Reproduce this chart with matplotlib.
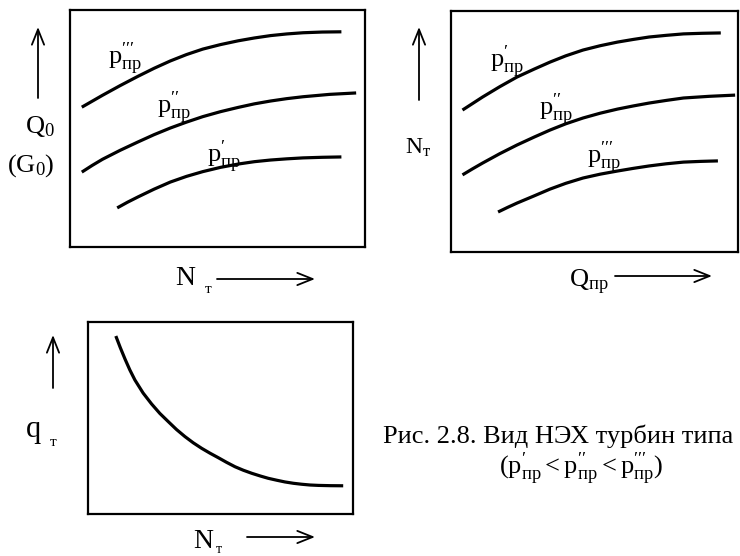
import matplotlib
matplotlib.use("Agg")
import matplotlib.pyplot as plt
from matplotlib.patches import FancyArrowPatch

plt.rcParams["font.family"] = ["Liberation Serif", "DejaVu Serif"]
plt.rcParams["mathtext.fontset"] = "custom"
plt.rcParams["mathtext.rm"] = "Liberation Serif"
plt.rcParams["mathtext.it"] = "Liberation Serif"
plt.rcParams["mathtext.bf"] = "Liberation Serif:bold"

W, H = 740, 556

# --- Q0 (G0) vs N_т, three inlet pressures ---
q0_p3_x = [4, 7.5, 11, 17, 23, 28.5, 34, 39.5, 45, 51, 57, 62.5, 68, 73.5, 79, 85.5, 92]
q0_p3_y = [59, 61.5, 64, 68.1, 72, 75.4, 78.5, 81.2, 83.5, 85.4, 87, 88.2, 89.2, 89.9, 90.4, 90.7, 90.8]
q0_p2_x = [4, 7.5, 11, 17, 23, 28.5, 34, 39.5, 45, 51, 57, 62.5, 68, 73.5, 79, 88, 97]
q0_p2_y = [31.6, 34.4, 37.0, 40.8, 44.3, 47.4, 50.2, 52.7, 55.0, 57.1, 58.9, 60.4, 61.6, 62.6, 63.4, 64.4, 65.0]
q0_p1_x = [16, 19.5, 23, 28.5, 34, 39.5, 45, 51, 57, 62.5, 68, 73.5, 79, 85.5, 92]
q0_p1_y = [16.5, 18.9, 21.1, 24.4, 27.4, 29.8, 31.8, 33.6, 35.0, 36.0, 36.7, 37.2, 37.6, 37.85, 38.0]

# --- N_т vs Q_пр ---
nt_p1_x = [4, 7.5, 11, 17, 23, 29, 34.5, 40, 46, 52, 58, 63.5, 69, 75, 81, 87.5, 94]
nt_p1_y = [58.9, 61.6, 64.3, 68.6, 72.6, 75.9, 78.8, 81.4, 83.8, 85.6, 87.1, 88.2, 89.2, 89.9, 90.5, 90.75, 90.9]
nt_p2_x = [4, 7.5, 11, 17, 23, 29, 34.5, 40, 46, 52, 58, 63.5, 69, 75, 81, 90, 99]
nt_p2_y = [32.0, 34.5, 36.9, 40.8, 44.4, 47.7, 50.6, 53.2, 55.6, 57.6, 59.3, 60.6, 61.8, 62.9, 63.9, 64.6, 65.1]
nt_p3_x = [16.4, 19.7, 23, 29, 34.5, 40, 46, 52, 58, 63.5, 69, 75, 81, 87, 93]
nt_p3_y = [16.6, 18.5, 20.3, 23.3, 26.1, 28.5, 30.7, 32.3, 33.6, 34.7, 35.7, 36.6, 37.3, 37.6, 37.8]

# --- q_т vs N_т ---
qt_x = [10.5, 12.2, 14, 15.8, 17.7, 20.8, 24.0, 27.1, 30.3, 33.4, 36.6, 39.7, 42.9, 46,
        49.2, 52.3, 55.5, 58.6, 61.8, 65, 68.0, 71.2, 74.3, 77.5, 80.6, 83.8, 86.9, 91.6, 96.3]
qt_y = [92.7, 86.6, 80.6, 75.0, 69.8, 63.0, 57.3, 52.4, 48.1, 44.0, 40.3, 37.1, 34.2, 31.7,
        29.3, 26.9, 24.6, 22.8, 21.2, 19.8, 18.6, 17.6, 16.7, 16.0, 15.5, 15.1, 14.9, 14.75, 14.7]

P1 = r"$\mathrm{p}_{\mathrm{пр}}^{\prime}$"
P2 = r"$\mathrm{p}_{\mathrm{пр}}^{\prime\prime}$"
P3 = r"$\mathrm{p}_{\mathrm{пр}}^{\prime\prime\prime}$"


def fp(x, y):
    return (x / W, 1 - y / H)


def box(left, top, right, bottom):
    return [left / W, 1 - bottom / H, (right - left) / W, (bottom - top) / H]


fig = plt.figure(figsize=(W / 100, H / 100), dpi=100)
fig.patch.set_facecolor("white")

ax1 = fig.add_axes(box(70, 10, 365, 247))
ax2 = fig.add_axes(box(451, 11, 738, 252))
ax3 = fig.add_axes(box(88, 322, 353, 514))

line_kw = dict(color="black", lw=2.3, solid_capstyle="butt", solid_joinstyle="round")

ax1.plot(q0_p3_x, q0_p3_y, **line_kw)
ax1.plot(q0_p2_x, q0_p2_y, **line_kw)
ax1.plot(q0_p1_x, q0_p1_y, **line_kw)

ax2.plot(nt_p1_x, nt_p1_y, **line_kw)
ax2.plot(nt_p2_x, nt_p2_y, **line_kw)
ax2.plot(nt_p3_x, nt_p3_y, **line_kw)

ax3.plot(qt_x, qt_y, **line_kw)

for ax in (ax1, ax2, ax3):
    ax.set_xlim(0, 100)
    ax.set_ylim(0, 100)
    ax.set_xticks([])
    ax.set_yticks([])
    for s in ax.spines.values():
        s.set_linewidth(1.6)
        s.set_color("black")

# curve labels
lab = dict(fontsize=19, ha="left", va="baseline")
for (x, y), t in [((108, 64), P3), ((157, 113), P2), ((207, 162), P1),
                  ((490, 67), P1), ((539, 115), P2), ((587, 163), P3)]:
    fig.text(*fp(x, y), t, **lab)

# axis names
fig.text(*fp(25, 133), r"$\mathrm{Q}_0$", fontsize=19, ha="left", va="baseline")
fig.text(*fp(7, 172), r"$(\mathrm{G}_0)$", fontsize=19, ha="left", va="baseline")
fig.text(*fp(175, 285), "N", fontsize=20, ha="left", va="baseline")
fig.text(*fp(205, 293), "т", fontsize=11, ha="left", va="baseline")

fig.text(*fp(405, 154), r"$\mathrm{N}_{\mathrm{т}}$", fontsize=17, ha="left", va="baseline")
fig.text(*fp(569, 287), r"$\mathrm{Q}_{\mathrm{пр}}$", fontsize=19, ha="left", va="baseline")

fig.text(*fp(26, 437), "q", fontsize=22, ha="left", va="baseline")
fig.text(*fp(50, 446), "т", fontsize=11, ha="left", va="baseline")
fig.text(*fp(193, 548), "N", fontsize=20, ha="left", va="baseline")
fig.text(*fp(216, 553), "т", fontsize=10, ha="left", va="baseline")

# direction arrows
arrow_kw = dict(arrowstyle="->,head_length=0.55,head_width=0.22", mutation_scale=20,
                color="black", lw=1.3, shrinkA=0, shrinkB=0)
for tail, tip in [((38, 98), (38, 27)), ((419, 100), (419, 27)), ((53, 388), (53, 335)),
                  ((217, 279), (315, 279)), ((615, 276), (712, 276)), ((247, 537), (315, 537))]:
    fig.add_artist(FancyArrowPatch(fp(*tail), fp(*tip), transform=fig.transFigure, **arrow_kw))

# caption
fig.text(*fp(383, 443), "Рис. 2.8. Вид НЭХ турбин типа", fontsize=19, ha="left", va="baseline")
fig.text(*fp(581, 474),
         r"$(\mathrm{p}_{\mathrm{пр}}^{\prime}<\mathrm{p}_{\mathrm{пр}}^{\prime\prime}<\mathrm{p}_{\mathrm{пр}}^{\prime\prime\prime})$",
         fontsize=19, ha="center", va="baseline")

fig.savefig("out.png", dpi=100, facecolor="white")
